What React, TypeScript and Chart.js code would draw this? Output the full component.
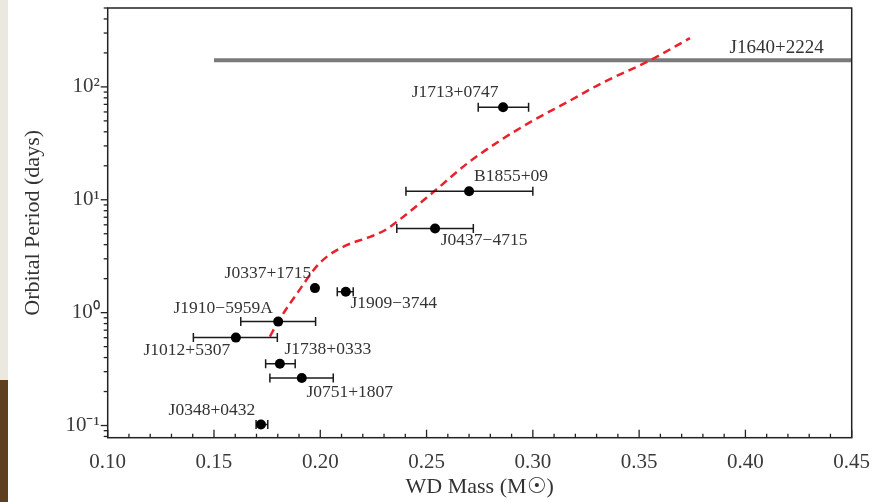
import React, { useEffect, useRef } from "react";
import { Chart, registerables } from "chart.js";

Chart.register(...registerables);

// ---- data ----
const pulsarNames = [
  "J1713+0747",
  "B1855+09",
  "J0437\u22124715",
  "J0337+1715",
  "J1909\u22123744",
  "J1910\u22125959A",
  "J1012+5307",
  "J1738+0333",
  "J0751+1807",
  "J0348+0432",
];
const wdMass = [0.286, 0.27, 0.254, 0.1975, 0.212, 0.1802, 0.1603, 0.181, 0.1913, 0.1721];
const massLow = [0.2743, 0.2403, 0.236, null, 0.208, 0.1626, 0.1403, 0.1743, 0.1763, 0.1698];
const massHigh = [0.298, 0.3, 0.272, null, 0.2155, 0.1978, 0.1798, 0.1882, 0.2061, 0.1753];
const orbitalPeriod = [66, 11.9, 5.56, 1.65, 1.53, 0.833, 0.601, 0.352, 0.264, 0.102];

const curveMass = [0.1763, 0.1802, 0.1913, 0.1975, 0.203, 0.2124, 0.2234, 0.2304, 0.2359, 0.2532, 0.2689, 0.2845, 0.3, 0.3159, 0.3316, 0.3551, 0.3739];
const curvePeriod = [0.614, 0.833, 1.7, 2.47, 3.12, 3.96, 4.69, 5.37, 6.36, 11.7, 20.8, 33.4, 50.2, 72.8, 106, 172, 270];

const j1640Name = "J1640+2224";
const j1640Mass = [0.15, 0.45];
const j1640Period = 172;

const xTickValues = [0.1, 0.15, 0.2, 0.25, 0.3, 0.35, 0.4, 0.45];
const yTickLabels: Record<string, string> = {
  "-1": "10\u207B\u00B9",
  "0": "10\u2070",
  "1": "10\u00B9",
  "2": "10\u00B2",
};

// label offsets in pixels relative to the point (layout only)
const labelOffsets: [number, number][] = [
  [-48, -15],
  [42, -15],
  [49, 12],
  [-47, -15],
  [48, 12],
  [-55, -13],
  [-49, 13],
  [48, -14],
  [48, 14],
  [-49, -14],
];

const SERIF = "'Liberation Serif', 'Times New Roman', serif";

const annotatePlugin = {
  id: "annotate",
  afterDatasetsDraw(chart: any) {
    const { ctx, chartArea } = chart;
    const xs = chart.scales.x;
    const ys = chart.scales.y;
    ctx.save();
    // frame
    ctx.strokeStyle = "#222";
    ctx.lineWidth = 1.5;
    ctx.strokeRect(chartArea.left, chartArea.top, chartArea.right - chartArea.left, chartArea.bottom - chartArea.top);
    // x ticks (inward)
    ctx.lineWidth = 1.3;
    for (let i = 10; i <= 45; i++) {
      const v = i / 100;
      const px = xs.getPixelForValue(v);
      const len = i % 5 === 0 ? 8 : 4;
      ctx.beginPath();
      ctx.moveTo(px, chartArea.bottom);
      ctx.lineTo(px, chartArea.bottom - len);
      ctx.stroke();
    }
    // y ticks (outward)
    for (let e = -2; e <= 2; e++) {
      for (let s = 1; s <= 9; s++) {
        const v = s * Math.pow(10, e);
        if (v < ys.min || v > ys.max) continue;
        const py = ys.getPixelForValue(v);
        const len = s === 1 ? 7 : 4;
        ctx.beginPath();
        ctx.moveTo(chartArea.left, py);
        ctx.lineTo(chartArea.left - len, py);
        ctx.stroke();
      }
    }
    // labels
    ctx.fillStyle = "#333";
    ctx.textAlign = "center";
    ctx.textBaseline = "middle";
    ctx.font = `17.5px ${SERIF}`;
    pulsarNames.forEach((name, i) => {
      const px = xs.getPixelForValue(wdMass[i]);
      const py = ys.getPixelForValue(orbitalPeriod[i]);
      ctx.fillText(name, px + labelOffsets[i][0], py + labelOffsets[i][1]);
    });
    ctx.font = `19px ${SERIF}`;
    ctx.textAlign = "right";
    ctx.fillText(j1640Name, xs.getPixelForValue(j1640Mass[1]) - 28, ys.getPixelForValue(j1640Period) - 12);
    ctx.restore();
  },
};

const zeroPad = (s: any) => {
  s.paddingLeft = 0;
  s.paddingRight = 0;
  s.paddingTop = 0;
  s.paddingBottom = 0;
};

export default function App() {
  const ref = useRef<HTMLCanvasElement>(null);
  useEffect(() => {
    document.body.style.margin = "0";
    const errorSets = pulsarNames
      .map((name, i) =>
        massLow[i] == null
          ? null
          : {
              label: name + " err",
              data: [
                { x: massLow[i] as number, y: orbitalPeriod[i] },
                { x: massHigh[i] as number, y: orbitalPeriod[i] },
              ],
              showLine: true,
              borderColor: "#1a1a1a",
              borderWidth: 1.5,
              pointStyle: "line",
              rotation: 90,
              pointRadius: 4.5,
              pointBorderWidth: 1.5,
              pointBorderColor: "#1a1a1a",
              order: 2,
            }
      )
      .filter(Boolean);

    const chart = new Chart(ref.current!, {
      type: "scatter",
      data: {
        datasets: [
          {
            label: "pulsars",
            data: wdMass.map((m, i) => ({ x: m, y: orbitalPeriod[i] })),
            pointRadius: 5,
            pointBackgroundColor: "#000",
            pointBorderColor: "#000",
            pointBorderWidth: 0,
            order: 1,
          },
          ...(errorSets as any[]),
          {
            label: "theory",
            data: curveMass.map((m, i) => ({ x: m, y: curvePeriod[i] })),
            showLine: true,
            borderColor: "#e8222c",
            borderWidth: 2.5,
            borderDash: [8, 5],
            pointRadius: 0,
            cubicInterpolationMode: "monotone",
            order: 3,
          },
          {
            label: j1640Name,
            data: j1640Mass.map((m) => ({ x: m, y: j1640Period })),
            showLine: true,
            borderColor: "#7a7a7a",
            borderWidth: 4,
            pointRadius: 0,
            order: 4,
          },
        ],
      },
      options: {
        animation: false,
        responsive: false,
        devicePixelRatio: 1,
        layout: { padding: { top: 8, right: 22.3, left: 0, bottom: 0 } },
        plugins: { legend: { display: false }, tooltip: { enabled: false } },
        scales: {
          x: {
            type: "linear",
            min: 0.1,
            max: 0.45,
            afterBuildTicks: (s: any) => {
              s.ticks = xTickValues.map((v) => ({ value: v }));
            },
            ticks: {
              callback: (v: any) => Number(v).toFixed(2),
              font: { family: SERIF, size: 21 },
              color: "#3a3a3a",
              padding: 12,
              maxRotation: 0,
              autoSkip: false,
            },
            grid: { display: false, drawTicks: false },
            border: { display: false },
            title: {
              display: true,
              text: "WD Mass (M\u2609)",
              font: { family: SERIF, size: 22 },
              color: "#333",
              padding: { top: 0, bottom: 2 },
            },
            afterFit: (s: any) => {
              s.height = 64.3;
              zeroPad(s);
            },
          },
          y: {
            type: "logarithmic",
            min: 0.078,
            max: 500,
            ticks: {
              autoSkip: false,
              callback: (v: any) => {
                const l = Math.log10(Number(v));
                if (Math.abs(l - Math.round(l)) < 1e-6) return yTickLabels[String(Math.round(l))] ?? "";
                return "";
              },
              font: { family: SERIF, size: 21 },
              color: "#3a3a3a",
              padding: 8,
            },
            grid: { display: false, drawTicks: false },
            border: { display: false },
            title: {
              display: true,
              text: "Orbital Period (days)",
              font: { family: SERIF, size: 22 },
              color: "#333",
              padding: { top: 20, bottom: 0 },
            },
            afterFit: (s: any) => {
              s.width = 107.7;
              zeroPad(s);
            },
          },
        },
      },
      plugins: [annotatePlugin],
    } as any);
    return () => chart.destroy();
  }, []);

  return (
    <div style={{ position: "relative", width: 874, height: 502, background: "#fff", overflow: "hidden" }}>
      <div style={{ position: "absolute", left: 0, top: 0, width: 8, height: 380, background: "#ebe8e0" }} />
      <div style={{ position: "absolute", left: 0, top: 380, width: 8, height: 122, background: "#5e3f20" }} />
      <canvas ref={ref} width={874} height={502} style={{ position: "absolute", left: 0, top: 0 }} />
    </div>
  );
}
